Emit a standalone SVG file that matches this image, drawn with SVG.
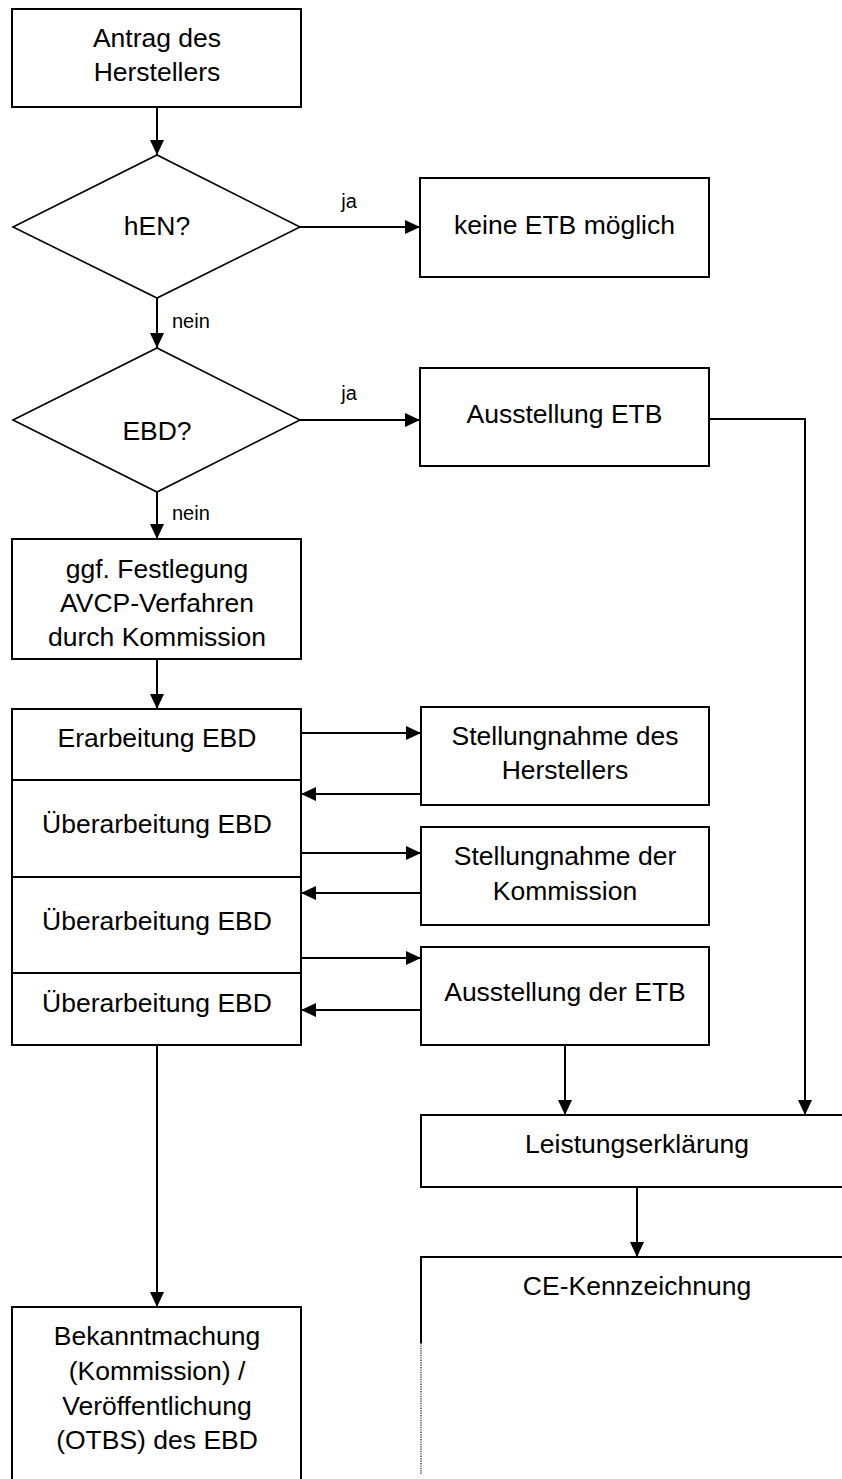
<svg xmlns="http://www.w3.org/2000/svg" width="842" height="1479" viewBox="0 0 842 1479">
<style>
.box{fill:#fff;stroke:#000;stroke-width:2}
.dia{fill:#fff;stroke:#000;stroke-width:1.6}
.t{font-family:"Liberation Sans",Arial,sans-serif;font-size:26.5px;fill:#000;text-anchor:middle}
.s{font-family:"Liberation Sans",Arial,sans-serif;font-size:20px;fill:#000}
.c{fill:none;stroke:#000;stroke-width:2}
</style>
<defs>
<marker id="ah" markerUnits="userSpaceOnUse" markerWidth="16" markerHeight="15" refX="15" refY="7" orient="auto">
<path d="M0,0 L15,7 L0,14 z" fill="#000"/>
</marker>
</defs>
<rect width="842" height="1479" fill="#fff"/>
<g id="connectors">
<line class="c" x1="157" y1="107" x2="157" y2="155" marker-end="url(#ah)"/>
<line class="c" x1="300" y1="227" x2="420" y2="227" marker-end="url(#ah)"/>
<line class="c" x1="157" y1="298" x2="157" y2="348" marker-end="url(#ah)"/>
<line class="c" x1="300" y1="420" x2="420" y2="420" marker-end="url(#ah)"/>
<polyline class="c" points="709,419 805,419 805,1115" marker-end="url(#ah)"/>
<line class="c" x1="157" y1="492" x2="157" y2="539" marker-end="url(#ah)"/>
<line class="c" x1="157" y1="659" x2="157" y2="709" marker-end="url(#ah)"/>
<line class="c" x1="301" y1="733" x2="421" y2="733" marker-end="url(#ah)"/>
<line class="c" x1="421" y1="794" x2="301" y2="794" marker-end="url(#ah)"/>
<line class="c" x1="301" y1="853" x2="421" y2="853" marker-end="url(#ah)"/>
<line class="c" x1="421" y1="893" x2="301" y2="893" marker-end="url(#ah)"/>
<line class="c" x1="301" y1="958" x2="421" y2="958" marker-end="url(#ah)"/>
<line class="c" x1="421" y1="1010" x2="301" y2="1010" marker-end="url(#ah)"/>
<line class="c" x1="565" y1="1045" x2="565" y2="1115" marker-end="url(#ah)"/>
<line class="c" x1="157" y1="1045" x2="157" y2="1307" marker-end="url(#ah)"/>
<line class="c" x1="637" y1="1187" x2="637" y2="1257" marker-end="url(#ah)"/>
<text class="s" x="349" y="208" text-anchor="middle">ja</text>
<text class="s" x="172" y="328">nein</text>
<text class="s" x="349" y="400" text-anchor="middle">ja</text>
<text class="s" x="172" y="520">nein</text>
</g>
<g id="antrag">
<rect class="box" x="12" y="9" width="289" height="98"/>
<text class="t" x="157" y="47">Antrag des</text>
<text class="t" x="157" y="81">Herstellers</text>
</g>
<g id="hen">
<polygon class="dia" points="13,227 157,155 300,227 157,298"/>
<text class="t" x="157" y="235">hEN?</text>
</g>
<g id="keine">
<rect class="box" x="420" y="178" width="289" height="99"/>
<text class="t" x="564.5" y="234">keine ETB möglich</text>
</g>
<g id="ebd">
<polygon class="dia" points="13,420 157,348 300,420 157,492"/>
<text class="t" x="157" y="440">EBD?</text>
</g>
<g id="ausstellung-etb">
<rect class="box" x="420" y="368" width="289" height="98"/>
<text class="t" x="564.5" y="423">Ausstellung ETB</text>
</g>
<g id="festlegung">
<rect class="box" x="12" y="539" width="289" height="120"/>
<text class="t" x="157" y="578">ggf. Festlegung</text>
<text class="t" x="157" y="612">AVCP-Verfahren</text>
<text class="t" x="157" y="646">durch Kommission</text>
</g>
<g id="ebd-stack">
<rect class="box" x="12" y="709" width="289" height="336"/>
<line class="c" x1="12" y1="780" x2="301" y2="780"/>
<line class="c" x1="12" y1="877" x2="301" y2="877"/>
<line class="c" x1="12" y1="973" x2="301" y2="973"/>
<text class="t" x="157" y="747">Erarbeitung EBD</text>
<text class="t" x="157" y="833">Überarbeitung EBD</text>
<text class="t" x="157" y="930">Überarbeitung EBD</text>
<text class="t" x="157" y="1012">Überarbeitung EBD</text>
</g>
<g id="stellung-hersteller">
<rect class="box" x="421" y="707" width="288" height="98"/>
<text class="t" x="565" y="745">Stellungnahme des</text>
<text class="t" x="565" y="779">Herstellers</text>
</g>
<g id="stellung-kommission">
<rect class="box" x="421" y="827" width="288" height="98"/>
<text class="t" x="565" y="865">Stellungnahme der</text>
<text class="t" x="565" y="900">Kommission</text>
</g>
<g id="ausstellung-der-etb">
<rect class="box" x="421" y="947" width="288" height="98"/>
<text class="t" x="565" y="1001">Ausstellung der ETB</text>
</g>
<g id="leistungserklaerung">
<rect class="box" x="421" y="1115" width="432" height="72"/>
<text class="t" x="637" y="1153">Leistungserklärung</text>
</g>
<g id="ce">
<line class="c" x1="421" y1="1257" x2="850" y2="1257"/>
<line class="c" x1="421" y1="1256" x2="421" y2="1343"/>
<line x1="421" y1="1343" x2="421" y2="1474" stroke="#222" stroke-width="1.3" stroke-dasharray="1.2,1.2"/>
<text class="t" x="637" y="1295">CE-Kennzeichnung</text>
</g>
<g id="bekanntmachung">
<rect class="box" x="12" y="1307" width="289" height="200"/>
<text class="t" x="157" y="1345">Bekanntmachung</text>
<text class="t" x="157" y="1380">(Kommission) /</text>
<text class="t" x="157" y="1415">Veröffentlichung</text>
<text class="t" x="157" y="1449">(OTBS) des EBD</text>
</g>
</svg>
